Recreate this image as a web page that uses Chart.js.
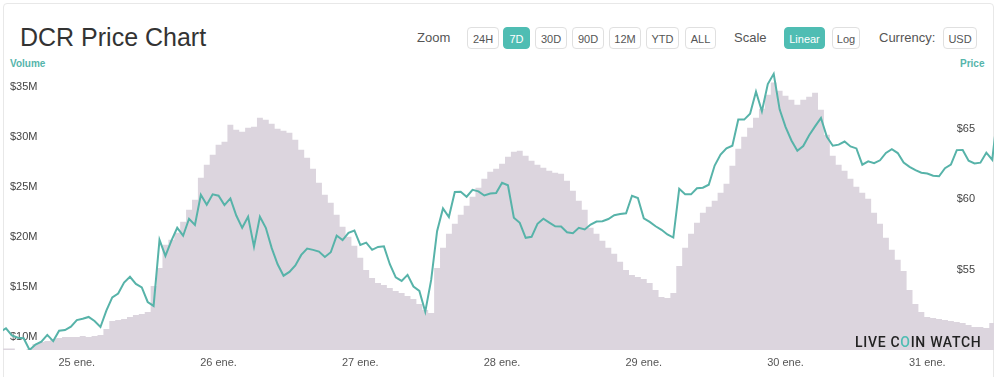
<!DOCTYPE html>
<html>
<head>
<meta charset="utf-8">
<script src="https://cdn.jsdelivr.net/npm/chart.js@4.4.1/dist/chart.umd.min.js"></script>
<style>
  html, body { margin: 0; padding: 0; background: #fff; }
  body { width: 1001px; height: 377px; overflow: hidden; position: relative; font-family: "Liberation Sans", Arial, sans-serif; }
  .card { position: absolute; left: 3px; top: 3px; width: 991px; height: 390px; border: 1px solid #e8e8e8; border-radius: 4px; box-sizing: border-box; }
  h1 { position: absolute; left: 20px; top: 22px; margin: 0; font-size: 25px; line-height: 30px; font-weight: normal; color: #333; }
  .lbl { position: absolute; top: 30px; font-size: 13px; line-height: 16px; color: #555; }
  .btn { position: absolute; top: 27px; height: 22px; line-height: 22px; box-sizing: border-box; border: 1px solid #e0e0e0; border-radius: 4px; font-size: 11px; color: #555; text-align: center; background: #fff; }
  .btn.on { background: #4fbdb3; border-color: #4fbdb3; color: #fff; }
  .axtitle { position: absolute; top: 58px; font-size: 10px; font-weight: bold; color: #55b5ab; }
  /* chart.js keeps ~14px above the plot area, so the box starts 14px higher */
  #wrap { position: absolute; left: 3px; top: 56px; width: 991px; height: 321px; }
  .mark { position: absolute; left: 855px; top: 333px; font-family: Roboto, sans-serif; font-size: 14px; font-weight: 500; letter-spacing: 0.7px; color: #222; line-height: 18px; }
  .mark span { color: #4fbdb3; }
</style>
</head>
<body>
<div class="card"></div>
<h1>DCR Price Chart</h1>

<div class="lbl" style="left:417px">Zoom</div>
<div class="btn" style="left:467px;width:32px">24H</div>
<div class="btn on" style="left:503px;width:27px">7D</div>
<div class="btn" style="left:535px;width:32px">30D</div>
<div class="btn" style="left:572px;width:32px">90D</div>
<div class="btn" style="left:609px;width:32px">12M</div>
<div class="btn" style="left:646px;width:33px">YTD</div>
<div class="btn" style="left:685px;width:31px">ALL</div>
<div class="lbl" style="left:734px">Scale</div>
<div class="btn on" style="left:784px;width:41px">Linear</div>
<div class="btn" style="left:832px;width:28px">Log</div>
<div class="lbl" style="left:879px">Currency:</div>
<div class="btn" style="left:943px;width:34px">USD</div>

<div class="axtitle" style="left:10px">Volume</div>
<div class="axtitle" style="left:960px">Price</div>

<div id="wrap"><canvas id="chart"></canvas></div>
<div class="mark">LIVE C<span>O</span>IN WATCH</div>

<script>
// hours counted from 25 ene. 00:00, one value per hour
const firstHour = -13;

// volume in millions USD
const volume = [
  8.85, 8.85, 8.85, 8.7, 8.7, 8.8, 9.3, 9.5, 9.6, 9.8, 9.9, 10.0, 10.0,
  10.0, 10.1, 10.0, 10.1, 10.2, 10.8, 11.6, 11.7, 11.8, 12.0, 12.2, 12.3,
  12.5, 15.1, 16.9, 19.2, 19.7, 20.4, 21.5, 22.7, 23.7, 25.9, 27.2, 28.2,
  29.2, 29.5, 31.2, 30.7, 30.5, 30.9, 31.0, 31.9, 31.7, 31.3, 30.8, 30.6,
  30.4, 29.7, 28.7, 27.9, 26.8, 25.4, 24.2, 23.4, 22.2, 21.0, 20.0, 19.1,
  17.9, 16.7, 15.9, 15.4, 15.2, 14.9, 14.6, 14.4, 14.1, 13.8, 13.3, 12.7,
  12.4, 16.9, 18.9, 20.3, 21.3, 22.2, 23.1, 24.0, 24.9, 25.8, 26.5, 26.8,
  27.3, 28.0, 28.5, 28.6, 28.1, 27.6, 27.2, 26.9, 26.6, 26.4, 26.3, 25.6,
  24.6, 23.6, 22.7, 20.9, 20.3, 19.6, 18.9, 18.3, 17.5, 16.7, 16.2, 16.0,
  15.8, 15.4, 14.7, 14.0, 13.9, 14.4, 17.1, 18.9, 20.3, 21.4, 22.4, 23.0,
  23.6, 24.4, 25.3, 27.1, 28.8, 30.0, 30.9, 31.9, 32.8, 34.2, 35.4, 34.6,
  34.1, 33.7, 33.2, 33.7, 34.0, 34.4, 32.7, 30.2, 28.1, 27.2, 26.6, 25.8,
  25.0, 24.4, 23.8, 22.4, 21.3, 19.9, 18.7, 17.7, 16.6, 14.7, 13.3, 12.5,
  12.0, 11.9, 11.8, 11.7, 11.6, 11.5, 11.4, 11.2, 11.0, 11.0, 10.9, 11.4,
  11.4
];

// price in USD
const price = [
  50.62, 50.86, 50.37, 50.20, 50.16, 49.33, 49.72, 49.92, 50.40, 49.96, 50.69, 50.74, 50.98,
  51.45, 51.54, 51.67, 51.38, 50.96, 52.12, 53.05, 53.33, 54.10, 54.51, 54.01, 53.76,
  52.73, 52.45, 57.13, 55.99, 57.06, 57.98, 57.42, 58.62, 58.19, 60.32, 59.61, 60.35,
  60.25, 59.59, 60.06, 58.85, 57.98, 58.76, 56.65, 58.76, 57.98, 56.54, 55.40, 54.59,
  54.86, 55.31, 56.06, 56.51, 56.42, 56.30, 55.92, 56.25, 57.43, 57.11, 57.62, 57.79,
  56.77, 56.93, 56.42, 56.63, 56.67, 55.40, 54.47, 54.22, 54.65, 53.82, 53.51, 52.04,
  54.29, 57.74, 59.35, 58.74, 60.51, 60.53, 60.18, 60.67, 60.56, 60.27, 60.41, 60.44,
  61.17, 60.99, 58.69, 58.33, 57.27, 57.34, 58.26, 58.62, 58.35, 58.09, 58.07, 57.67,
  57.60, 57.98, 57.86, 58.21, 58.42, 58.45, 58.60, 58.87, 58.95, 59.01, 60.25, 60.09,
  58.65, 58.40, 58.09, 57.84, 57.51, 57.29, 60.74, 60.35, 60.35, 60.78, 60.82, 61.03,
  62.39, 63.16, 63.60, 63.79, 65.64, 65.64, 66.06, 67.62, 66.23, 68.16, 68.88, 66.37,
  65.13, 64.16, 63.44, 63.77, 64.53, 65.16, 65.76, 64.42, 63.79, 63.87, 64.09, 63.74,
  63.60, 62.45, 62.69, 62.55, 62.76, 63.28, 63.55, 63.27, 62.60, 62.30, 62.06, 61.88,
  61.82, 61.67, 61.63, 62.20, 62.45, 63.48, 63.49, 62.73, 62.54, 62.59, 63.30, 62.80,
  66.40
];

const dayTicks = [0, 24, 48, 72, 96, 120, 144];
const dayLabels = ['25 ene.', '26 ene.', '27 ene.', '28 ene.', '29 ene.', '30 ene.', '31 ene.'];
const volumeTicks = [10, 15, 20, 25, 30, 35];
const priceTicks = [50, 55, 60, 65];

const hours = volume.map((v, i) => firstHour + i);
const font = { family: "'Liberation Sans', Arial, sans-serif", size: 11 };

new Chart(document.getElementById('chart'), {
  type: 'line',
  data: {
    datasets: [
      {
        label: 'Price',
        data: hours.map((h, i) => ({ x: h, y: price[i] })),
        yAxisID: 'yPrice',
        borderColor: '#57b3a9',
        borderWidth: 2,
        pointRadius: 0,
        tension: 0,
        fill: false,
        order: 1
      },
      {
        label: 'Volume',
        data: hours.map((h, i) => ({ x: h, y: volume[i] })),
        yAxisID: 'yVol',
        stepped: 'middle',
        backgroundColor: '#dcd5de',
        borderWidth: 0,
        pointRadius: 0,
        fill: 'start',
        order: 2
      }
    ]
  },
  options: {
    responsive: true,
    maintainAspectRatio: false,
    animation: false,
    layout: { padding: 0 },
    plugins: {
      legend: { display: false },
      tooltip: { enabled: false }
    },
    scales: {
      x: {
        type: 'linear',
        min: -12.5,
        max: 155.3,
        grid: { display: false, drawTicks: false },
        border: { display: false },
        afterBuildTicks: s => { s.ticks = dayTicks.map(v => ({ value: v })); },
        afterFit: s => { s.height = 27; },
        ticks: {
          padding: 6,
          color: '#555',
          font: font,
          maxRotation: 0,
          autoSkip: false,
          callback: (v, i) => dayLabels[i]
        }
      },
      yVol: {
        position: 'left',
        min: 8.7,
        max: 36.7,
        grid: { display: false, drawTicks: false },
        border: { display: false },
        afterBuildTicks: s => { s.ticks = volumeTicks.map(v => ({ value: v })); },
        afterFit: s => { s.width = 0; },
        ticks: {
          mirror: true,
          padding: 7,
          color: '#444',
          font: font,
          callback: v => '$' + v + 'M'
        }
      },
      yPrice: {
        position: 'right',
        min: 49.33,
        max: 69.18,
        grid: { display: false, drawTicks: false },
        border: { display: false },
        afterBuildTicks: s => { s.ticks = priceTicks.map(v => ({ value: v })); },
        afterFit: s => { s.width = 0; },
        ticks: {
          mirror: true,
          padding: -19,
          color: '#444',
          font: font,
          callback: v => '$' + v
        }
      }
    }
  }
});
</script>
</body>
</html>
